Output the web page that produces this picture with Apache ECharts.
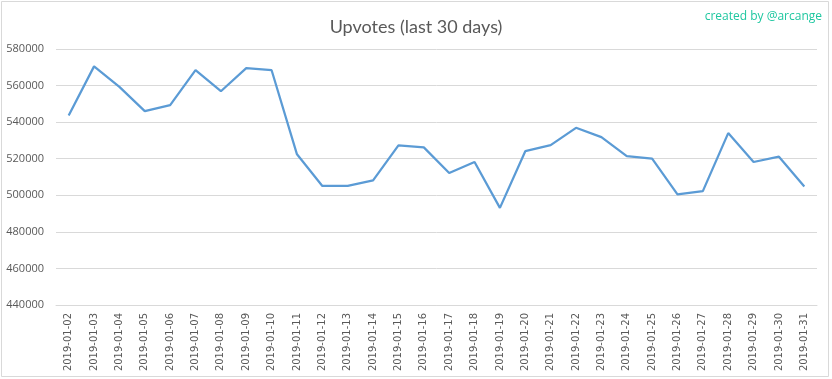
<!DOCTYPE html>
<html>
<head>
<meta charset="utf-8">
<script src="https://cdn.jsdelivr.net/npm/echarts@6/dist/echarts.min.js"></script>
<style>
html,body{margin:0;padding:0;background:#fff;}
#c{width:832px;height:379px;}
</style>
</head>
<body>
<div id="c"></div>
<script>
const categories = ["2019-01-02","2019-01-03","2019-01-04","2019-01-05","2019-01-06","2019-01-07","2019-01-08","2019-01-09","2019-01-10","2019-01-11","2019-01-12","2019-01-13","2019-01-14","2019-01-15","2019-01-16","2019-01-17","2019-01-18","2019-01-19","2019-01-20","2019-01-21","2019-01-22","2019-01-23","2019-01-24","2019-01-25","2019-01-26","2019-01-27","2019-01-28","2019-01-29","2019-01-30","2019-01-31"];
const upvotes = [543600,570500,559300,546000,549300,568400,556900,569500,568400,522400,505100,505100,508200,527300,526200,512200,518200,493100,524100,527400,536900,531800,521400,520100,500500,502300,534000,518200,521100,504800];
const yTicks = {min:440000, max:580000, interval:20000};
const titleText = "Upvotes (last 30 days)";
const creditText = "created by @arcange";

const chart = echarts.init(document.getElementById('c'), null, {renderer:'canvas'});
chart.setOption({
  animation:false,
  backgroundColor:'#ffffff',
  title:[
    {text:titleText, left:'center', top:13, textStyle:{fontFamily:'Lato, "Open Sans", sans-serif', fontWeight:'normal', fontSize:18, color:'#595959'}},
    {text:creditText, right:5, top:6, textStyle:{fontFamily:'"Open Sans", "Noto Sans", sans-serif', fontWeight:'normal', fontSize:12, color:'#1fc7a0'}}
  ],
  graphic:[{type:'rect', shape:{x:1.5,y:1.5,width:827,height:375}, style:{fill:'none', stroke:'#d9d9d9', lineWidth:1}, silent:true}],
  grid:{left:56, right:15, top:49, bottom:74, containLabel:false},
  xAxis:{
    type:'category', data:categories, boundaryGap:true,
    axisLine:{show:true, lineStyle:{color:'#d9d9d9', width:1}},
    axisTick:{show:false},
    axisLabel:{rotate:90, interval:0, margin:8, fontFamily:'"DejaVu Sans", sans-serif', fontSize:10, color:'#595959'}
  },
  yAxis:{
    type:'value', min:yTicks.min, max:yTicks.max, interval:yTicks.interval,
    axisLine:{show:false}, axisTick:{show:false},
    splitLine:{lineStyle:{color:'#d9d9d9', width:1}},
    axisLabel:{margin:12, formatter:function(v){return String(v);}, fontFamily:'"Open Sans", "Liberation Sans", sans-serif', fontSize:11, color:'#595959'}
  },
  series:[{type:'line', data:upvotes, symbol:'none', lineStyle:{color:'#5b9bd5', width:2.25}, itemStyle:{color:'#5b9bd5'}}]
});
</script>
</body>
</html>
